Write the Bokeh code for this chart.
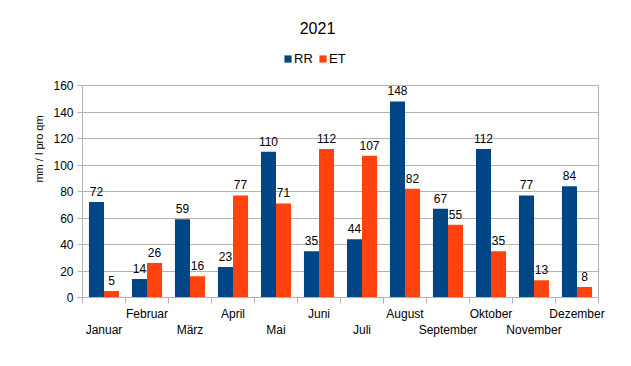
from bokeh.plotting import figure
from bokeh.models import (FixedTicker, Legend, LegendItem, ColumnDataSource, Range1d,
                          Label, LinearAxis)
from bokeh.core.properties import value
from bokeh.embed import file_html
from bokeh.resources import INLINE

months = ["Januar", "Februar", "März", "April", "Mai", "Juni", "Juli",
          "August", "September", "Oktober", "November", "Dezember"]
rr = [72, 14, 59, 23, 110, 35, 44, 148, 67, 112, 77, 84]
et = [5, 26, 16, 77, 71, 112, 107, 82, 55, 35, 13, 8]
y_ticks = [0, 20, 40, 60, 80, 100, 120, 140, 160]

FONT = "Liberation Sans"
RR_C = "#004586"
ET_C = "#ff420e"
GRID = "#b3b3b3"
W = 0.35
Y_MAX = 160
# frame also hosts title and legend: extend the range above the 160 box
Y_TOP = Y_MAX * 297 / 212

idx = list(range(len(months)))
src = ColumnDataSource(dict(
    x_rr=[i - W / 2 for i in idx], x_et=[i + W / 2 for i in idx],
    rr=rr, et=et,
    rr_t=[str(v) for v in rr], et_t=[str(v) for v in et],
))

p = figure(width=630, height=365, output_backend="svg", toolbar_location=None,
           x_range=Range1d(-0.5, len(months) - 0.5), y_range=Range1d(0, Y_TOP),
           min_border_left=82, min_border_right=32, min_border_bottom=68,
           min_border_top=0)
p.title = None

r1 = p.vbar(x="x_rr", top="rr", width=W, source=src, color=RR_C, line_color=None)
r2 = p.vbar(x="x_et", top="et", width=W, source=src, color=ET_C, line_color=None)

for col, xc in (("rr", "x_rr"), ("et", "x_et")):
    p.text(x=xc, y=col, text=col + "_t", source=src, text_align="center",
           text_baseline="bottom", y_offset=-6, text_font=value(FONT),
           text_font_size="12px", text_color="black")

# x axis
xa = p.xaxis[0]
xa.ticker = FixedTicker(ticks=idx, minor_ticks=[i - 0.5 for i in range(len(months) + 1)])
xa.major_label_overrides = {i: (m if i % 2 == 1 else "\n" + m) for i, m in enumerate(months)}
xa.major_tick_line_color = None
xa.minor_tick_out = 6
xa.minor_tick_in = 0
xa.minor_tick_line_color = GRID
xa.axis_line_color = GRID
xa.major_label_text_font = FONT
xa.major_label_text_font_size = "12px"
xa.major_label_text_color = "black"
xa.major_label_standoff = 3

# y axis
ya = p.yaxis[0]
ya.bounds = (0, Y_MAX)
ya.ticker = FixedTicker(ticks=y_ticks, minor_ticks=[])
ya.major_tick_out = 5
ya.major_tick_in = 0
ya.major_tick_line_color = GRID
ya.axis_line_color = GRID
ya.minor_tick_line_color = None
ya.major_label_text_font = FONT
ya.major_label_text_font_size = "12px"
ya.major_label_text_color = "black"
ya.major_label_standoff = 4
ya.axis_label = "mm / l pro qm"
ya.axis_label_text_font = FONT
ya.axis_label_text_font_size = "11px"
ya.axis_label_text_font_style = "normal"
ya.axis_label_text_color = "black"
ya.axis_label_standoff = 5

# right border of the box
ra = LinearAxis(bounds=(0, Y_MAX), ticker=FixedTicker(ticks=[], minor_ticks=[]),
                axis_line_color=GRID, major_tick_line_color=None,
                minor_tick_line_color=None, major_label_text_color=None,
                major_label_text_font_size="1px")
p.add_layout(ra, "right")

p.xgrid.grid_line_color = None
p.ygrid.grid_line_color = GRID
p.ygrid.ticker = FixedTicker(ticks=y_ticks)
p.outline_line_color = None

legend = Legend(items=[LegendItem(label="RR", renderers=[r1]), LegendItem(label="ET", renderers=[r2])],
                orientation="horizontal", location=(201, 231),
                glyph_width=9, glyph_height=9, label_text_font=FONT,
                label_text_font_size="13px", label_standoff=2, spacing=4,
                border_line_color=None, background_fill_alpha=0,
                padding=0, margin=0, label_height=14, label_text_color="black")
p.add_layout(legend, "center")

title = Label(x=235, y=270, x_units="screen", y_units="screen", text="2021",
              text_align="center", text_baseline="middle", text_font=FONT,
              text_font_size="16px", text_color="black")
p.add_layout(title)

open("out.html", "w").write(file_html(p, INLINE))
